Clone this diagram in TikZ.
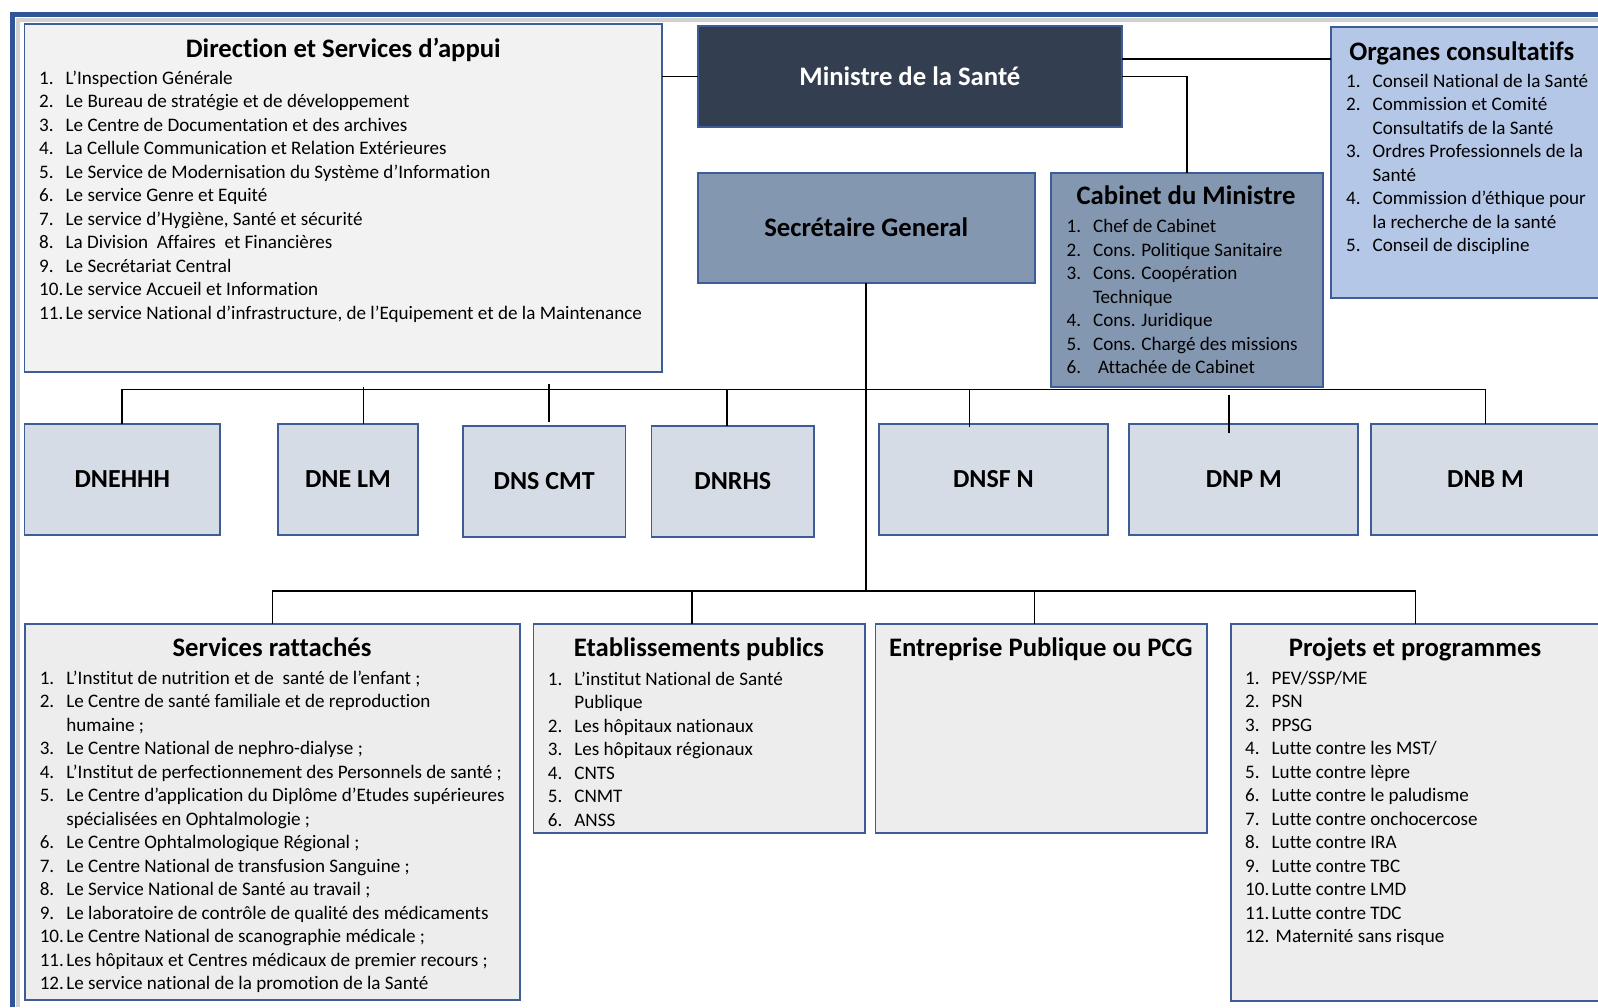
\documentclass[tikz,border=0pt]{standalone}
\usepackage{fontspec}
\setmainfont{Carlito}[Ligatures=NoCommon]
\usetikzlibrary{calc}

\definecolor{frameblue}{RGB}{47,85,151}
\definecolor{edgeblue}{RGB}{62,92,152}
\definecolor{navy}{RGB}{51,63,80}
\definecolor{slate}{RGB}{132,151,176}
\definecolor{paleblue}{RGB}{180,199,231}
\definecolor{mist}{RGB}{214,220,229}
\definecolor{lightgrey}{RGB}{242,242,242}
\definecolor{panelgrey}{RGB}{237,237,237}

% numbered entry: fixed-width number column, then the text
\newcommand{\itm}[2]{\makebox[26.5pt][l]{#1}#2}

\begin{document}
\begin{tikzpicture}[x=1pt,y=-1pt,
  panel/.style={draw=edgeblue, line width=1.8pt, inner sep=0pt, outer sep=0pt},
  wire/.style={draw=black, line width=1.6pt},
  heading/.style={font=\fontsize{26.7}{32}\selectfont\bfseries, inner sep=0pt, anchor=base},
  listing/.style={font=\fontsize{19.1}{23.5}\selectfont, inner sep=0pt, anchor=base west},
  dnbox/.style={panel, fill=mist, font=\fontsize{26}{30}\selectfont\bfseries, minimum height=110.7pt},
  bigbox/.style={panel, font=\fontsize{26.7}{32}\selectfont\bfseries},
]
\useasboundingbox (0,0) rectangle (1598,1007);
\fill[white] (0,0) rectangle (1598,1007);

% page frame with its soft shadow
\draw[line width=4pt, black!18] (17.5,1007) -- (17.5,19.5) -- (1598,19.5);
\draw[line width=5pt, frameblue] (12,1007) -- (12,14) -- (1598,14);

% ---------- top level ----------
\node[panel, fill=lightgrey, minimum width=637.5pt, minimum height=347.4pt] (dir) at (343.25,198) {};
\node[bigbox, fill=navy, text=white, minimum width=424.3pt, minimum height=100.7pt] (min) at (909.85,76.35) {Ministre de la Santé};
\node[panel, fill=paleblue, minimum width=269.3pt, minimum height=271.6pt] (org) at (1465.35,162.5) {};
\node[bigbox, fill=slate, minimum width=337.1pt, minimum height=110pt] (sg) at (866.25,227.7) {Secrétaire General};
\node[panel, fill=slate, minimum width=272pt, minimum height=214pt] (cab) at (1187,279.7) {};

\node[heading] (dirhead) at (343.3,57) {Direction et Services d’appui};
\node[listing] (dirlist) at (39,84) {\begin{tabular}[t]{@{}l@{}}
\itm{1.}{L’Inspection Générale}\\
\itm{2.}{Le Bureau de stratégie et de développement}\\
\itm{3.}{Le Centre de Documentation et des archives}\\
\itm{4.}{La Cellule Communication et Relation Extérieures}\\
\itm{5.}{Le Service de Modernisation du Système d’Information}\\
\itm{6.}{Le service Genre et Equité}\\
\itm{7.}{Le service d’Hygiène, Santé et sécurité}\\
\itm{8.}{La Division\ \ Affaires\ \ et Financières}\\
\itm{9.}{Le Secrétariat Central}\\
\itm{10.}{Le service Accueil et Information}\\
\itm{11.}{Le service National d’infrastructure, de l’Equipement et de la Maintenance}
\end{tabular}};

\node[heading] (orghead) at (1461.7,60) {Organes consultatifs};
\node[listing] (orglist) at (1346,87.3) {\begin{tabular}[t]{@{}l@{}}
\itm{1.}{Conseil National de la Santé}\\
\itm{2.}{Commission et Comité}\\
\itm{}{Consultatifs de la Santé}\\
\itm{3.}{Ordres Professionnels de la}\\
\itm{}{Santé}\\
\itm{4.}{Commission d’éthique pour}\\
\itm{}{la recherche de la santé}\\
\itm{5.}{Conseil de discipline}
\end{tabular}};

\node[heading] (cabhead) at (1186,204) {Cabinet du Ministre};
\node[listing] (cablist) at (1066.4,232.7) {\begin{tabular}[t]{@{}l@{}}
\itm{1.}{Chef de Cabinet}\\
\itm{2.}{Cons. Politique Sanitaire}\\
\itm{3.}{Cons. Coopération}\\
\itm{}{Technique}\\
\itm{4.}{Cons. Juridique}\\
\itm{5.}{Cons. Chargé des missions}\\
\itm{6.}{\hspace{5pt}Attachée de Cabinet}
\end{tabular}};

% ---------- national directorates ----------
\node[dnbox, minimum width=195.5pt] (dnehhh) at (122.25,479.35) {DNEHHH};
\node[dnbox, minimum width=140pt] (dnelm) at (348,479.35) {DNE LM};
\node[dnbox, minimum width=162.7pt] (dnscmt) at (544.15,481.35) {DNS CMT};
\node[dnbox, minimum width=162.7pt] (dnrhs) at (732.85,481.35) {DNRHS};
\node[dnbox, minimum width=229pt] (dnsfn) at (993.4,479.35) {DNSF N};
\node[dnbox, minimum width=229pt] (dnpm) at (1243.8,479.35) {DNP M};
\node[dnbox, minimum width=229pt] (dnbm) at (1485.5,479.35) {DNB M};

% ---------- attached bodies ----------
\node[panel, fill=panelgrey, minimum width=495.2pt, minimum height=376pt] (serv) at (272.4,812) {};
\node[panel, fill=panelgrey, minimum width=331.6pt, minimum height=208.7pt] (etab) at (699.2,728.35) {};
\node[panel, fill=panelgrey, minimum width=331.2pt, minimum height=208.7pt] (entr) at (1041,728.35) {};
\node[panel, fill=panelgrey, minimum width=369.3pt, minimum height=376.7pt] (proj) at (1415.35,812.35) {};

\node[heading] (servhead) at (272,656.7) {Services rattachés};
\node[listing] (servlist) at (39.6,684) {\begin{tabular}[t]{@{}l@{}}
\itm{1.}{L’Institut de nutrition et de\ \ santé de l’enfant ;}\\
\itm{2.}{Le Centre de santé familiale et de reproduction}\\
\itm{}{humaine ;}\\
\itm{3.}{Le Centre National de nephro-dialyse ;}\\
\itm{4.}{L’Institut de perfectionnement des Personnels de santé ;}\\
\itm{5.}{Le Centre d’application du Diplôme d’Etudes supérieures}\\
\itm{}{spécialisées en Ophtalmologie ;}\\
\itm{6.}{Le Centre Ophtalmologique Régional ;}\\
\itm{7.}{Le Centre National de transfusion Sanguine ;}\\
\itm{8.}{Le Service National de Santé au travail ;}\\
\itm{9.}{Le laboratoire de contrôle de qualité des médicaments}\\
\itm{10.}{Le Centre National de scanographie médicale ;}\\
\itm{11.}{Les hôpitaux et Centres médicaux de premier recours ;}\\
\itm{12.}{Le service national de la promotion de la Santé}
\end{tabular}};

\node[heading] (etabhead) at (699,656.7) {Etablissements publics};
\node[listing] (etablist) at (547.7,685) {\begin{tabular}[t]{@{}l@{}}
\itm{1.}{L’institut National de Santé}\\
\itm{}{Publique}\\
\itm{2.}{Les hôpitaux nationaux}\\
\itm{3.}{Les hôpitaux régionaux}\\
\itm{4.}{CNTS}\\
\itm{5.}{CNMT}\\
\itm{6.}{ANSS}
\end{tabular}};

\node[heading] (entrhead) at (1040.8,656.7) {Entreprise Publique ou PCG};

\node[heading] (projhead) at (1415,656.7) {Projets et programmes};
\node[listing] (projlist) at (1245,684) {\begin{tabular}[t]{@{}l@{}}
\itm{1.}{PEV/SSP/ME}\\
\itm{2.}{PSN}\\
\itm{3.}{PPSG}\\
\itm{4.}{Lutte contre les MST/}\\
\itm{5.}{Lutte contre lèpre}\\
\itm{6.}{Lutte contre le paludisme}\\
\itm{7.}{Lutte contre onchocercose}\\
\itm{8.}{Lutte contre IRA}\\
\itm{9.}{Lutte contre TBC}\\
\itm{10.}{Lutte contre LMD}\\
\itm{11.}{Lutte contre TDC}\\
\itm{12.}{\hspace{4pt}Maternité sans risque}
\end{tabular}};

% ---------- connectors ----------
\coordinate (minhi) at ([yshift=17.3pt]min.east);
\coordinate (upy) at (0,389.5);
\coordinate (lowy) at (0,591);
\coordinate (upbus) at (sg.south |- upy);
\coordinate (lowbus) at (sg.south |- lowy);

\draw[wire] (dir.east |- min.west) -- (min.west);
\draw[wire] (minhi) -- (minhi -| org.west);
\draw[wire] (min.east) -| (cab.north);
\draw[wire] (sg.south) -- (lowbus);

\draw[wire] (dnehhh.north) |- (upbus) -| (dnbm.north);
\draw[wire] ([xshift=15.3pt]dnelm.north) -- ++(0,-37.3);
\draw[wire] ([xshift=4.85pt,yshift=3.7pt]dnscmt.north) -- ++(0,-38.3);
\draw[wire] ([xshift=-5.85pt]dnrhs.north) -- ++(0,-36.5);
\draw[wire] ([xshift=-23.9pt,yshift=-3pt]dnsfn.north) -- ++(0,-38);
\draw[wire] ([xshift=-14.8pt,yshift=-9.3pt]dnpm.north) -- ++(0,-38);

\draw[wire] (serv.north) |- (lowbus) -| (proj.north);
\draw[wire] ([xshift=-7.3pt]etab.north) -- ++(0,-33);
\draw[wire] ([xshift=-6.5pt]entr.north) -- ++(0,-33);
\end{tikzpicture}
\end{document}
